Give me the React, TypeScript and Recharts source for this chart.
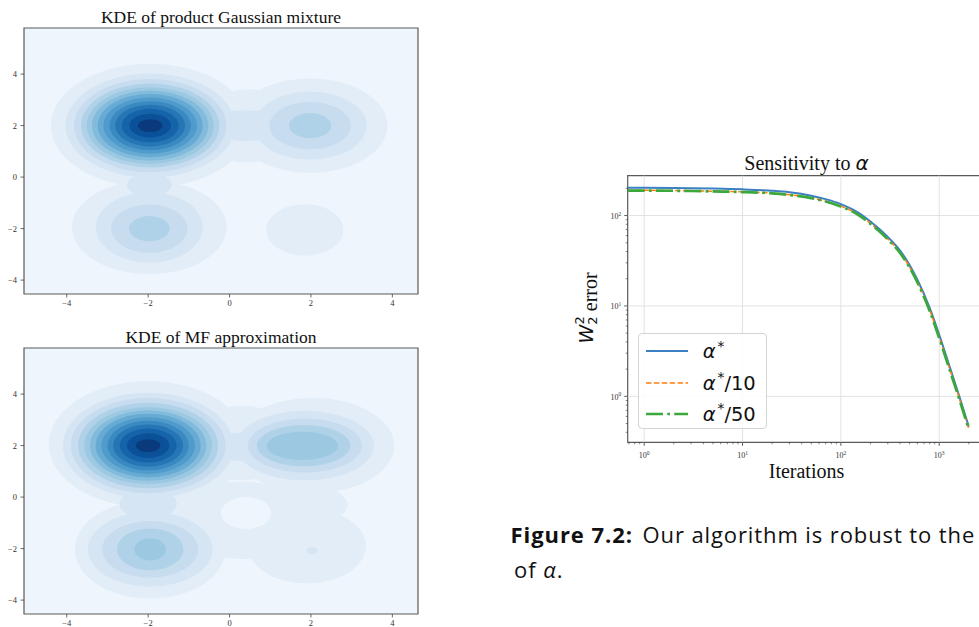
import React from 'react';
import {
  ComposedChart,
  LineChart,
  Line,
  XAxis,
  YAxis,
  ReferenceArea,
  ReferenceLine,
  Legend,
} from 'recharts';

// ---------- KDE panels ----------
const KDE_X_DOMAIN: [number, number] = [-5.05, 4.63];
const KDE_Y_DOMAIN: [number, number] = [-4.54, 5.79];
const KDE_TICKS = [-4, -2, 0, 2, 4];

// filled contour levels, lowest (background) to highest density
const LEVEL_COLORS = [
  '#eef5fc',
  '#e2edf8',
  '#d5e5f4',
  '#c7dcef',
  '#b0d2e8',
  '#9cc9e1',
  '#82bbdb',
  '#67abd4',
  '#4f9bcb',
  '#3a89c1',
  '#2676b6',
  '#1563a9',
  '#0b5199',
  '#0a3a7c',
];

type Blob = { x: number; y: number; rx: number; ry: number; level: number };

// contour bands of the product mixture, drawn in order
const productBlobs: Blob[] = [
  { x: -1.95, y: 2.0, rx: 2.44, ry: 2.4, level: 1 },
  { x: 0.45, y: 1.99, rx: 1.25, ry: 1.42, level: 1 },
  { x: 1.98, y: 2.0, rx: 1.9, ry: 1.83, level: 1 },
  { x: -1.97, y: -1.95, rx: 1.9, ry: 1.82, level: 1 },
  { x: 1.85, y: -2.05, rx: 0.95, ry: 1.0, level: 1 },
  { x: -1.95, y: 2.0, rx: 2.08, ry: 2.02, level: 2 },
  { x: 0.4, y: 2.0, rx: 0.9, ry: 0.6, level: 2 },
  { x: 1.98, y: 2.0, rx: 1.39, ry: 1.32, level: 2 },
  { x: -1.97, y: -1.95, rx: 1.31, ry: 1.37, level: 2 },
  { x: -1.97, y: -0.3, rx: 0.55, ry: 0.45, level: 2 },
  { x: -1.95, y: 2.0, rx: 1.87, ry: 1.81, level: 3 },
  { x: 1.98, y: 2.0, rx: 1.0, ry: 0.92, level: 3 },
  { x: -1.97, y: -2.0, rx: 0.94, ry: 0.94, level: 3 },
  { x: -1.95, y: 2.0, rx: 1.7, ry: 1.63, level: 4 },
  { x: 1.98, y: 2.0, rx: 0.52, ry: 0.49, level: 4 },
  { x: -1.97, y: -2.0, rx: 0.5, ry: 0.49, level: 4 },
  { x: -1.95, y: 2.0, rx: 1.56, ry: 1.49, level: 5 },
  { x: -1.95, y: 2.0, rx: 1.43, ry: 1.36, level: 6 },
  { x: -1.95, y: 2.0, rx: 1.29, ry: 1.23, level: 7 },
  { x: -1.95, y: 2.0, rx: 1.15, ry: 1.09, level: 8 },
  { x: -1.95, y: 2.0, rx: 1.0, ry: 0.95, level: 9 },
  { x: -1.95, y: 2.0, rx: 0.86, ry: 0.81, level: 10 },
  { x: -1.95, y: 2.0, rx: 0.7, ry: 0.65, level: 11 },
  { x: -1.95, y: 2.0, rx: 0.51, ry: 0.46, level: 12 },
  { x: -1.95, y: 2.0, rx: 0.3, ry: 0.25, level: 13 },
];

// contour bands of the mean-field approximation, drawn in order
const mfBlobs: Blob[] = [
  { x: -2.0, y: 2.05, rx: 2.44, ry: 2.45, level: 1 },
  { x: 0.3, y: 2.1, rx: 1.3, ry: 1.45, level: 1 },
  { x: 2.05, y: 2.0, rx: 2.0, ry: 1.85, level: 1 },
  { x: -1.95, y: -2.03, rx: 1.85, ry: 1.91, level: 1 },
  { x: 1.9, y: -1.9, rx: 1.45, ry: 1.45, level: 1 },
  { x: 0.3, y: -0.9, rx: 1.6, ry: 1.5, level: 1 },
  { x: 1.8, y: -0.3, rx: 1.1, ry: 0.8, level: 1 },
  { x: 0.41, y: -0.62, rx: 0.62, ry: 0.62, level: 0 },
  { x: -2.0, y: 2.0, rx: 2.1, ry: 2.05, level: 2 },
  { x: 0.35, y: 1.95, rx: 0.9, ry: 0.55, level: 2 },
  { x: 1.85, y: 2.0, rx: 1.7, ry: 1.35, level: 2 },
  { x: -1.95, y: -2.03, rx: 1.53, ry: 1.45, level: 2 },
  { x: -2.0, y: -0.25, rx: 0.7, ry: 0.6, level: 2 },
  { x: 2.03, y: -2.08, rx: 0.14, ry: 0.13, level: 2 },
  { x: -2.0, y: 2.0, rx: 1.9, ry: 1.85, level: 3 },
  { x: 1.85, y: 2.0, rx: 1.4, ry: 1.05, level: 3 },
  { x: -1.95, y: -2.03, rx: 1.18, ry: 1.1, level: 3 },
  { x: -2.0, y: 2.0, rx: 1.72, ry: 1.66, level: 4 },
  { x: 1.82, y: 2.0, rx: 1.15, ry: 0.8, level: 4 },
  { x: -1.95, y: -2.03, rx: 0.82, ry: 0.81, level: 4 },
  { x: -2.0, y: 2.0, rx: 1.57, ry: 1.5, level: 5 },
  { x: 1.79, y: 1.99, rx: 0.88, ry: 0.55, level: 5 },
  { x: -1.95, y: -2.03, rx: 0.39, ry: 0.43, level: 5 },
  { x: -2.0, y: 2.0, rx: 1.43, ry: 1.37, level: 6 },
  { x: -2.0, y: 2.0, rx: 1.29, ry: 1.24, level: 7 },
  { x: -2.0, y: 2.0, rx: 1.15, ry: 1.1, level: 8 },
  { x: -2.0, y: 2.0, rx: 1.0, ry: 0.96, level: 9 },
  { x: -2.0, y: 2.0, rx: 0.86, ry: 0.82, level: 10 },
  { x: -2.0, y: 2.0, rx: 0.7, ry: 0.66, level: 11 },
  { x: -2.0, y: 2.0, rx: 0.52, ry: 0.48, level: 12 },
  { x: -2.0, y: 2.0, rx: 0.3, ry: 0.25, level: 13 },
];

// ---------- sensitivity plot ----------
const iterations = [0.68, 1, 2, 3, 5, 10, 20, 30, 50, 70, 100, 150, 200, 300, 400, 600, 800, 1000, 1300, 1600, 2000];
const errAlphaStar = [203, 203, 202, 201, 199, 195, 188, 181, 166, 152, 134, 108, 86, 58, 41, 19.5, 9.5, 4.8, 2.0, 1.0, 0.46];
const errAlphaStar10 = [190, 190, 189, 188, 186, 183, 177, 170, 157, 144, 127, 103, 82, 55, 39, 18.5, 9.0, 4.5, 1.9, 0.95, 0.44];
const errAlphaStar50 = [189, 189, 188, 187, 185, 182, 176, 169, 156, 143, 126, 102, 81, 54.5, 38.5, 18.2, 8.8, 4.4, 1.85, 0.93, 0.43];

const LOG_X_DOMAIN: [number, number] = [0.68, 2920];
const LOG_Y_DOMAIN: [number, number] = [0.31, 276];
const xDecades = [1, 10, 100, 1000];
const yDecades = [1, 10, 100];
const logXTicks = [0.7, 0.8, 0.9, 1, 2, 3, 4, 5, 6, 7, 8, 9, 10, 20, 30, 40, 50, 60, 70, 80, 90, 100, 200, 300, 400, 500, 600, 700, 800, 900, 1000, 2000];
const logYTicks = [0.4, 0.5, 0.6, 0.7, 0.8, 0.9, 1, 2, 3, 4, 5, 6, 7, 8, 9, 10, 20, 30, 40, 50, 60, 70, 80, 90, 100, 200];

const seriesInfo = [
  { key: 'a1', color: '#3b80c2', width: 2, dash: undefined as string | undefined },
  { key: 'a10', color: '#ff7f0e', width: 1.5, dash: '5.5 2.4' },
  { key: 'a50', color: '#3aa83a', width: 2.7, dash: '17 4.3 2.7 4.3' },
];
const legendSuffixes = ['', '/10', '/50'];

const lineData = iterations.map((t, i) => ({
  t,
  a1: errAlphaStar[i],
  a10: errAlphaStar10[i],
  a50: errAlphaStar50[i],
}));

const SERIF = "'Liberation Serif', 'Times New Roman', serif";
const MATH = "'DejaVu Sans', sans-serif";
const CAPTION = "'Open Sans', sans-serif";

const fmtKde = (v: number) => (v < 0 ? `\u2212${Math.abs(v)}` : `${v}`);

const KdeXTick = (props: any) => {
  const { x, y, payload } = props;
  return (
    <g>
      <line x1={x} y1={y} x2={x} y2={y + 3.5} stroke="#444" strokeWidth={0.8} />
      <text x={x} y={y + 12} textAnchor="middle" fontFamily={SERIF} fontSize={8.5} fill="#333">
        {fmtKde(payload.value)}
      </text>
    </g>
  );
};

const KdeYTick = (props: any) => {
  const { x, y, payload } = props;
  return (
    <g>
      <line x1={x} y1={y} x2={x - 3.5} y2={y} stroke="#444" strokeWidth={0.8} />
      <text x={x - 7} y={y + 3} textAnchor="end" fontFamily={SERIF} fontSize={8.5} fill="#333">
        {fmtKde(payload.value)}
      </text>
    </g>
  );
};

const decadeOf = (v: number) => {
  const e = Math.round(Math.log10(v));
  return Math.abs(Math.log10(v) - e) < 1e-6 ? e : null;
};

const LogXTick = (props: any) => {
  const { x, y, payload } = props;
  const e = decadeOf(payload.value);
  return (
    <g>
      <line x1={x} y1={y} x2={x} y2={y + (e !== null ? 3.5 : 2)} stroke="#333" strokeWidth={e !== null ? 0.8 : 0.6} />
      {e !== null && (
        <text x={x} y={y + 16} textAnchor="middle" fontFamily={SERIF} fontSize={8} fill="#333">
          10
          <tspan dy={-3.5} fontSize={5.5}>
            {e}
          </tspan>
        </text>
      )}
    </g>
  );
};

const LogYTick = (props: any) => {
  const { x, y, payload } = props;
  const e = decadeOf(payload.value);
  return (
    <g>
      <line x1={x} y1={y} x2={x - (e !== null ? 3.5 : 2)} y2={y} stroke="#333" strokeWidth={e !== null ? 0.8 : 0.6} />
      {e !== null && (
        <text x={x - 6.5} y={y + 3.5} textAnchor="end" fontFamily={SERIF} fontSize={8} fill="#333">
          10
          <tspan dy={-3.5} fontSize={5.5}>
            {e}
          </tspan>
        </text>
      )}
    </g>
  );
};

const ellipseShape = (fill: string) => (p: any) => (
  <ellipse
    cx={p.x + p.width / 2}
    cy={p.y + p.height / 2}
    rx={Math.abs(p.width) / 2}
    ry={Math.abs(p.height) / 2}
    fill={fill}
    stroke="none"
    clipPath={p.clipPath}
  />
);

function KdePanel({ blobs, top }: { blobs: Blob[]; top: number }) {
  return (
    <div style={{ position: 'absolute', left: 0, top, width: 440, height: 310 }}>
      <ComposedChart width={440} height={310} margin={{ top: 28, right: 22, bottom: 0, left: 0 }}>
        <XAxis
          type="number"
          dataKey="x"
          domain={KDE_X_DOMAIN}
          allowDataOverflow
          ticks={KDE_TICKS}
          interval={0}
          height={16}
          axisLine={false}
          tickLine={false}
          tickSize={0}
          tickMargin={0}
          tick={<KdeXTick />}
        />
        <YAxis
          type="number"
          dataKey="y"
          domain={KDE_Y_DOMAIN}
          allowDataOverflow
          ticks={KDE_TICKS}
          interval={0}
          width={24}
          axisLine={false}
          tickLine={false}
          tickSize={0}
          tickMargin={0}
          tick={<KdeYTick />}
        />
        <ReferenceArea
          x1={KDE_X_DOMAIN[0]}
          x2={KDE_X_DOMAIN[1]}
          y1={KDE_Y_DOMAIN[0]}
          y2={KDE_Y_DOMAIN[1]}
          fill={LEVEL_COLORS[0]}
          fillOpacity={1}
          ifOverflow="visible"
        />
        {blobs.map((b, i) => (
          <ReferenceArea
            key={i}
            x1={b.x - b.rx}
            x2={b.x + b.rx}
            y1={b.y - b.ry}
            y2={b.y + b.ry}
            ifOverflow="hidden"
            shape={ellipseShape(LEVEL_COLORS[b.level])}
          />
        ))}
        <ReferenceArea
          x1={KDE_X_DOMAIN[0]}
          x2={KDE_X_DOMAIN[1]}
          y1={KDE_Y_DOMAIN[0]}
          y2={KDE_Y_DOMAIN[1]}
          fill="none"
          stroke="#5a5a5a"
          strokeWidth={1.2}
          ifOverflow="visible"
        />
      </ComposedChart>
    </div>
  );
}

const AlphaLabel = ({ suffix }: { suffix: string }) => (
  <span style={{ fontFamily: MATH }}>
    <span style={{ fontStyle: 'italic' }}>α</span>
    <span style={{ fontSize: '0.7em', position: 'relative', top: '-0.55em', marginLeft: 2 }}>*</span>
    {suffix}
  </span>
);

const LegendBox = () => (
  <div
    style={{
      width: 129,
      height: 96,
      border: '1px solid #d4d4d4',
      borderRadius: 4,
      background: 'rgba(255,255,255,0.85)',
      position: 'relative',
      boxSizing: 'border-box',
    }}
  >
    {seriesInfo.map((s, i) => (
      <div key={s.key} style={{ position: 'absolute', left: 0, top: 6 + i * 31.3, height: 28, width: 129 }}>
        <svg width={50} height={28} style={{ position: 'absolute', left: 6, top: 0 }}>
          <line x1={1} y1={11} x2={43} y2={11} stroke={s.color} strokeWidth={s.width} strokeDasharray={s.dash} />
        </svg>
        <div style={{ position: 'absolute', left: 64, top: -2, fontSize: 19.5, lineHeight: '28px', color: '#111', whiteSpace: 'nowrap' }}>
          <AlphaLabel suffix={legendSuffixes[i]} />
        </div>
      </div>
    ))}
  </div>
);

function SensitivityChart() {
  return (
    <div style={{ position: 'absolute', left: 560, top: 150, width: 440, height: 340 }}>
      <LineChart width={440} height={340} data={lineData} margin={{ top: 25.7, right: 15, bottom: 0, left: 0 }}>
        <XAxis
          type="number"
          dataKey="t"
          scale="log"
          domain={LOG_X_DOMAIN}
          allowDataOverflow
          ticks={logXTicks}
          interval={0}
          height={47.7}
          axisLine={false}
          tickLine={false}
          tickSize={0}
          tickMargin={0}
          tick={<LogXTick />}
        />
        <YAxis
          type="number"
          scale="log"
          domain={LOG_Y_DOMAIN}
          allowDataOverflow
          ticks={logYTicks}
          interval={0}
          width={67.7}
          axisLine={false}
          tickLine={false}
          tickSize={0}
          tickMargin={0}
          tick={<LogYTick />}
        />
        {xDecades.map((v) => (
          <ReferenceLine key={`gx${v}`} x={v} stroke="#e2e2e2" strokeWidth={1} />
        ))}
        {yDecades.map((v) => (
          <ReferenceLine key={`gy${v}`} y={v} stroke="#e2e2e2" strokeWidth={1} />
        ))}
        {seriesInfo.map((s) => (
          <Line
            key={s.key}
            type="monotone"
            dataKey={s.key}
            stroke={s.color}
            strokeWidth={s.width}
            strokeDasharray={s.dash}
            dot={false}
            isAnimationActive={false}
          />
        ))}
        <ReferenceArea
          x1={LOG_X_DOMAIN[0]}
          x2={LOG_X_DOMAIN[1]}
          y1={LOG_Y_DOMAIN[0]}
          y2={LOG_Y_DOMAIN[1]}
          fill="none"
          stroke="#5a5a5a"
          strokeWidth={1.2}
          ifOverflow="visible"
        />
        <Legend
          layout="vertical"
          align="center"
          verticalAlign="middle"
          content={<LegendBox />}
          wrapperStyle={{ left: 77.7, top: 183.3, width: 129, height: 96 }}
        />
      </LineChart>
    </div>
  );
}

export default function App() {
  return (
    <div
      style={{
        position: 'fixed',
        left: 0,
        top: 0,
        width: 979,
        height: 627,
        overflow: 'hidden',
        background: '#ffffff',
      }}
    >
      <KdePanel blobs={productBlobs} top={0} />
      <KdePanel blobs={mfBlobs} top={320} />
      <SensitivityChart />
      <svg width={979} height={627} style={{ position: 'absolute', left: 0, top: 0, pointerEvents: 'none' }}>
        <text x={221} y={22.7} textAnchor="middle" fontFamily={SERIF} fontSize={17.5} fill="#111">
          KDE of product Gaussian mixture
        </text>
        <text x={221} y={342.7} textAnchor="middle" fontFamily={SERIF} fontSize={17.5} fill="#111">
          KDE of MF approximation
        </text>
        <text x={806.5} y={170} textAnchor="middle" fontFamily={SERIF} fontSize={20} fill="#111">
          Sensitivity to{' '}
          <tspan fontFamily={MATH} fontStyle="italic">
            α
          </tspan>
        </text>
        <text x={806.5} y={478} textAnchor="middle" fontFamily={SERIF} fontSize={20} fill="#111">
          Iterations
        </text>
        <text transform="translate(597,308) rotate(-90)" textAnchor="middle" fontFamily={SERIF} fontSize={20} fill="#111">
          <tspan fontFamily={MATH} fontStyle="italic" fontSize={19} dy={-4}>
            W
          </tspan>
          <tspan fontFamily={MATH} fontSize={13} dy={4}>
            2
          </tspan>
          <tspan fontFamily={MATH} fontSize={13} dx={-8} dy={-13}>
            2
          </tspan>
          <tspan dy={13}> error</tspan>
        </text>
        <text x={633} y={543} textAnchor="end" fontFamily={CAPTION} fontWeight="bold" fontSize={22} letterSpacing={0.95} fill="#111">
          Figure 7.2:
        </text>
        <text x={642.5} y={543} fontFamily={CAPTION} fontSize={22} letterSpacing={0.9} fill="#111">
          Our algorithm is robust to the
        </text>
        <text x={514} y={578} fontFamily={CAPTION} fontSize={22} letterSpacing={0.95} fill="#111">
          of <tspan fontStyle="italic">α</tspan>.
        </text>
      </svg>
    </div>
  );
}
